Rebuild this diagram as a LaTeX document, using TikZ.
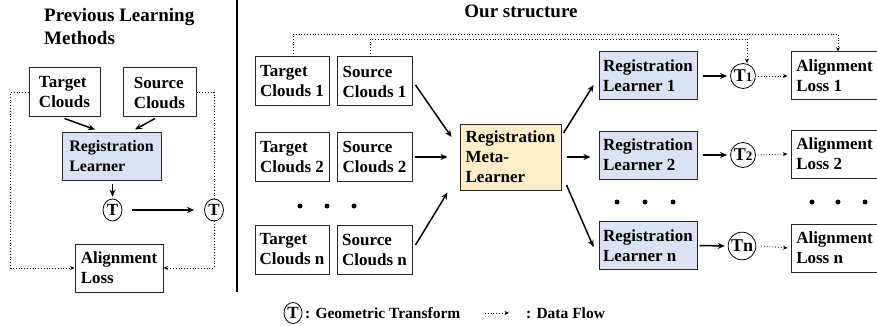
\documentclass[tikz,border=0pt]{standalone}
\usepackage{fontspec}
\setmainfont{Liberation Serif}
\usetikzlibrary{arrows.meta,shapes.geometric}
\definecolor{rlblue}{HTML}{DAE3F3}
\definecolor{metay}{HTML}{FDEDC9}
\begin{document}
\begin{tikzpicture}[x=1pt,y=-1pt,
  every node/.style={font=\bfseries\fontsize{17}{20}\selectfont},
  title/.style={font=\bfseries\fontsize{19}{23}\selectfont, inner sep=0pt},
  box/.style={draw=black!85, line width=1pt, align=left, inner sep=0pt},
  cb/.style={box, minimum width=74pt, minimum height=49pt},
  rl/.style={box, fill=rlblue, minimum width=98pt, minimum height=48pt},
  al/.style={box, minimum width=87pt, minimum height=48pt},
  tell/.style={ellipse, draw=black, line width=0.8pt, minimum width=19pt, minimum height=22pt, inner sep=0pt, font=\bfseries\fontsize{17}{17}\selectfont},
  tcirc/.style={circle, draw=black, line width=0.8pt, minimum size=25pt, inner sep=1pt, font=\bfseries\fontsize{18}{18}\selectfont},
  arr/.style={line width=1.5pt, -{Stealth[length=7pt,width=6pt]}},
  flow/.style={line width=0.8pt, dotted, -{Stealth[length=4.5pt,width=4pt]}},
  flowline/.style={line width=0.8pt, dotted},
  dot/.style={circle, fill=black, inner sep=0pt, minimum size=5pt}
]
\useasboundingbox (0,0) rectangle (877,326);

% ---------- left panel ----------
\node[title, anchor=base west] (ptitle1) at (44,22) {Previous Learning};
\node[title, anchor=base west] (ptitle2) at (44,45) {Methods};

\node[box, minimum width=71pt, minimum height=49pt] (lt) at (64.5,92.5) {Target\\Clouds};
\node[box, minimum width=73pt, minimum height=49pt] (ls) at (159.5,92.5) {Source\\Clouds};
\node[box, fill=rlblue, minimum width=99pt, minimum height=48pt, font=\bfseries\fontsize{16}{20}\selectfont] (lr) at (111.5,156) {Registration\\Learner};
\node[box, minimum width=88pt, minimum height=48pt] (la) at (119,268) {Alignment\\Loss};
\node[tell] (lT1) at (112.5,210) {T};
\node[tell] (lT2) at (214,210) {T};

\draw[arr] ([yshift=-1pt]lt.south) -- ([xshift=-16.5pt,yshift=2pt]lr.north);
\draw[arr] ([xshift=-4.5pt,yshift=-1pt]ls.south) -- ([xshift=23.5pt,yshift=2pt]lr.north);
\draw[arr] ([yshift=-3pt]lr.south -| lT1.north) -- ([yshift=2pt]lT1.north);
\draw[arr] ([xshift=10pt]lT1.east) -- ([xshift=-10pt]lT2.west);

\draw[flow] (lt.west) -- ++(-18,0) |- (la.west);
\draw[flowline] (ls.east) -| (lT2.north);
\draw[flow] (lT2.south) |- (la.east);

% separator
\coordinate (sepA) at (237,0);
\coordinate (sepB) at (237,292);
\draw[line width=2pt] (sepA) -- (sepB);

% ---------- right panel ----------
\node[title, anchor=base] (otitle) at (521,18) {Our structure};

\node[cb] (t1) at (292,81.5) {Target\\Clouds 1};
\node[cb, minimum width=75pt] (s1) at (374.5,81.5) {Source\\Clouds 1};
\node[cb] (t2) at (292,157) {Target\\Clouds 2};
\node[cb, minimum width=75pt] (s2) at (374.5,157) {Source\\Clouds 2};
\node[cb] (tn) at (292,249.5) {Target\\Clouds n};
\node[cb, minimum width=75pt] (sn) at (374.5,249.5) {Source\\Clouds n};

\node[dot] (d1) at (300,206) {};
\node[dot] (d2) at (327,206) {};
\node[dot] (d3) at (354,206) {};

\node[box, fill=metay, minimum width=101pt, minimum height=66pt] (meta) at (510.5,157) {Registration\\Meta-\\Learner};

\node[rl] (r1) at (648,76) {Registration\\Learner 1};
\node[rl] (r2) at (648,155) {Registration\\Learner 2};
\node[rl] (rn) at (648,245.5) {Registration\\Learner n};

\node[dot] (d4) at (617,202) {};
\node[dot] (d5) at (645,202) {};
\node[dot] (d6) at (673,202) {};

\node[tcirc] (T1) at (743,76) {T{\fontsize{13}{13}\selectfont 1}};
\node[tcirc] (T2) at (743,155) {T{\fontsize{13}{13}\selectfont 2}};
\node[tcirc] (Tn) at (742,246) {Tn};

\node[al] (a1) at (834.5,76) {Alignment\\Loss 1};
\node[al] (a2) at (834.5,154) {Alignment\\Loss 2};
\node[al] (an) at (834.5,248) {Alignment\\Loss n};

\node[dot] (d7) at (812,202) {};
\node[dot] (d8) at (838,202) {};
\node[dot] (d9) at (865,202) {};

% arrows into meta-learner
\draw[arr] ([xshift=3pt,yshift=-3.5pt]s1.east) -- ([xshift=-8pt,yshift=20pt]meta.west);
\draw[arr] ([xshift=2pt]s2.east) -- ([xshift=-12pt]meta.west);
\draw[arr] ([xshift=3pt,yshift=4.5pt]sn.east) -- ([xshift=-12pt,yshift=-2pt]meta.south west);

% arrows out of meta-learner
\draw[arr] ([xshift=2pt,yshift=24pt]meta.east) -- ([xshift=-5pt,yshift=-9pt]r1.west);
\draw[arr] ([xshift=5pt]meta.east) -- ([xshift=-8pt]meta.east -| r2.west);
\draw[arr] ([xshift=5pt,yshift=-28pt]meta.east) -- ([xshift=-5pt,yshift=-1.5pt]rn.west);

% learners to transforms
\draw[arr] ([xshift=5pt]r1.east) -- ([xshift=-3pt]T1.west);
\draw[arr] ([xshift=5pt]r2.east) -- ([xshift=-3pt]T2.west);
\draw[arr] ([xshift=2pt]rn.east) -- ([xshift=-3pt]Tn.west);

% transforms to losses
\draw[flow] ([xshift=2pt]T1.east) -- ([xshift=-3pt]a1.west);
\draw[flow] ([xshift=2pt]T2.east) -- ([xshift=-3pt]a2.west);
\draw[flow] ([xshift=5pt]Tn.east) -- ([xshift=-3pt]an.west);

% top data flow
\coordinate (top1) at (838,34);
\coordinate (top2) at (747,39);
\draw[flow] ([xshift=1pt]t1.north) |- (top1) -- (top1 |- a1.north);
\draw[flow] ([xshift=-4.5pt]s1.north) |- (top2) -- (top2 |- T1.north);

% ---------- legend ----------
\node[tell, minimum width=18pt, minimum height=21pt] (lgT) at (293,313) {T};
\node[anchor=base west, inner sep=0pt, font=\bfseries\fontsize{15.5}{18}\selectfont] (lgTt) at (305,318) {: Geometric Transform};
\coordinate (lgA) at (485,313);
\coordinate (lgB) at (509,313);
\draw[flow] (lgA) -- (lgB);
\node[anchor=base west, inner sep=0pt, font=\bfseries\fontsize{15.5}{18}\selectfont] (lgFt) at (526,318) {: Data Flow};
\end{tikzpicture}
\end{document}
